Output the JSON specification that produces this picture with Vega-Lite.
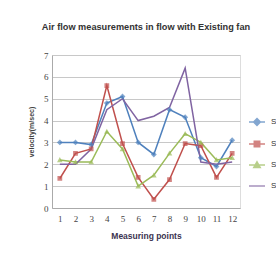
{
  "$schema": "https://vega.github.io/schema/vega-lite/v6.json",
  "autosize": {"type": "none"},
  "padding": {"left": 52, "top": 55, "right": 36, "bottom": 56},
  "width": 188,
  "height": 153,
  "background": "white",
  "title": {
    "text": "Air flow measurements in flow with Existing fan",
    "font": "Liberation Sans",
    "fontSize": 9.2,
    "fontWeight": "bold",
    "color": "#333333",
    "anchor": "middle",
    "offset": 19
  },
  "data": {
    "values": [
      {"point": 1, "series": "Series1", "value": 3.0},
      {"point": 2, "series": "Series1", "value": 3.0},
      {"point": 3, "series": "Series1", "value": 2.9},
      {"point": 4, "series": "Series1", "value": 4.8},
      {"point": 5, "series": "Series1", "value": 5.1},
      {"point": 6, "series": "Series1", "value": 3.0},
      {"point": 7, "series": "Series1", "value": 2.45},
      {"point": 8, "series": "Series1", "value": 4.5},
      {"point": 9, "series": "Series1", "value": 4.15},
      {"point": 10, "series": "Series1", "value": 2.3},
      {"point": 11, "series": "Series1", "value": 1.9},
      {"point": 12, "series": "Series1", "value": 3.1},
      {"point": 1, "series": "Series2", "value": 1.35},
      {"point": 2, "series": "Series2", "value": 2.5},
      {"point": 3, "series": "Series2", "value": 2.7},
      {"point": 4, "series": "Series2", "value": 5.6},
      {"point": 5, "series": "Series2", "value": 2.95},
      {"point": 6, "series": "Series2", "value": 1.4},
      {"point": 7, "series": "Series2", "value": 0.4},
      {"point": 8, "series": "Series2", "value": 1.3},
      {"point": 9, "series": "Series2", "value": 2.95},
      {"point": 10, "series": "Series2", "value": 2.85},
      {"point": 11, "series": "Series2", "value": 1.4},
      {"point": 12, "series": "Series2", "value": 2.5},
      {"point": 1, "series": "Series3", "value": 2.2},
      {"point": 2, "series": "Series3", "value": 2.1},
      {"point": 3, "series": "Series3", "value": 2.1},
      {"point": 4, "series": "Series3", "value": 3.5},
      {"point": 5, "series": "Series3", "value": 2.7},
      {"point": 6, "series": "Series3", "value": 1.0},
      {"point": 7, "series": "Series3", "value": 1.5},
      {"point": 8, "series": "Series3", "value": 2.5},
      {"point": 9, "series": "Series3", "value": 3.4},
      {"point": 10, "series": "Series3", "value": 3.0},
      {"point": 11, "series": "Series3", "value": 2.2},
      {"point": 12, "series": "Series3", "value": 2.3},
      {"point": 1, "series": "Series4", "value": 2.0},
      {"point": 2, "series": "Series4", "value": 2.0},
      {"point": 3, "series": "Series4", "value": 2.7},
      {"point": 4, "series": "Series4", "value": 4.5},
      {"point": 5, "series": "Series4", "value": 5.0},
      {"point": 6, "series": "Series4", "value": 4.0},
      {"point": 7, "series": "Series4", "value": 4.2},
      {"point": 8, "series": "Series4", "value": 4.6},
      {"point": 9, "series": "Series4", "value": 6.4},
      {"point": 10, "series": "Series4", "value": 2.1},
      {"point": 11, "series": "Series4", "value": 2.0},
      {"point": 12, "series": "Series4", "value": 2.1}
    ]
  },
  "encoding": {
    "x": {
      "field": "point",
      "type": "ordinal",
      "scale": {"type": "point", "padding": 0.5},
      "axis": {
        "title": "Measuring points",
        "titleFont": "Liberation Sans",
        "titleFontSize": 8.5,
        "titleFontWeight": "bold",
        "titleColor": "#3b3350",
        "titlePadding": 8,
        "labelAngle": 0,
        "labelFont": "Liberation Serif",
        "labelFontSize": 9,
        "labelColor": "#444444",
        "labelPadding": 6,
        "ticks": false,
        "domainColor": "#aaaaaa",
        "grid": false
      }
    },
    "y": {
      "field": "value",
      "type": "quantitative",
      "scale": {"domain": [0, 7], "nice": false},
      "axis": {
        "title": "velocity(m/sec)",
        "titleFont": "Liberation Sans",
        "titleFontSize": 7,
        "titleFontWeight": "bold",
        "titleColor": "#444444",
        "titlePadding": 9,
        "values": [0, 1, 2, 3, 4, 5, 6, 7],
        "labelFont": "Liberation Serif",
        "labelFontSize": 9,
        "labelColor": "#444444",
        "labelPadding": 4,
        "ticks": false,
        "domainColor": "#aaaaaa",
        "gridColor": "#c8c8c8"
      }
    },
    "color": {
      "field": "series",
      "type": "nominal",
      "scale": {
        "domain": ["Series1", "Series2", "Series3", "Series4"],
        "range": ["#4F81BD", "#C0504D", "#9BBB59", "#8064A2"]
      },
      "legend": {
        "title": null,
        "orient": "none",
        "legendX": 196,
        "legendY": 58,
        "labelFontSize": 8,
        "labelColor": "#333333",
        "labelOffset": 5,
        "rowPadding": 6,
        "symbolSize": 256,
        "symbolStrokeWidth": 1.5
      }
    }
  },
  "layer": [
    {
      "mark": {"type": "line", "strokeWidth": 1.5}
    },
    {
      "mark": {"type": "point", "filled": true, "size": 196, "strokeWidth": 0},
      "encoding": {
        "stroke": {
          "field": "series",
          "type": "nominal",
          "scale": {
            "domain": ["Series1", "Series2", "Series3", "Series4"],
            "range": ["#4F81BD", "#C0504D", "#9BBB59", "#8064A2"]
          },
          "legend": null
        },
        "shape": {
          "field": "series",
          "type": "nominal",
          "scale": {
            "domain": ["Series1", "Series2", "Series3", "Series4"],
            "range": [
              "M-1,0L1,0M0,-0.42L0.42,0L0,0.42L-0.42,0Z",
              "M-1,0L1,0M-0.34,-0.34L0.34,-0.34L0.34,0.34L-0.34,0.34Z",
              "M-1,0L1,0M0,-0.4L0.4,0.32L-0.4,0.32Z",
              "M-1,0L1,0"
            ]
          },
          "legend": null
        }
      }
    }
  ]
}
